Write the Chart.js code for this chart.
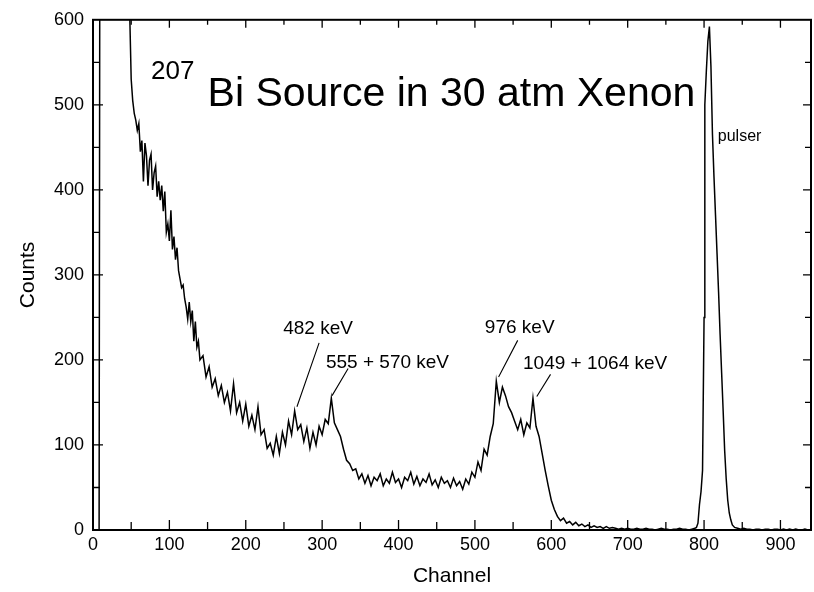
<!DOCTYPE html>
<html>
<head>
<meta charset="utf-8">
<title>207Bi Source in 30 atm Xenon</title>
<script src="https://cdn.jsdelivr.net/npm/chart.js@4.4.1/dist/chart.umd.min.js"></script>
<style>
  html, body { margin: 0; padding: 0; background: #fff; }
  canvas { display: block; }
</style>
</head>
<body>
<canvas id="spectrum" width="814" height="592"></canvas>
<script>
// spectrum (channel -> counts), values above 600 run off the top
var channels = [
  0, 4, 8, 12, 16, 20, 24, 28, 32, 36, 40, 44,
  48, 50, 52, 54, 56, 58, 60, 62, 64, 66, 68, 70, 72, 74, 76, 78, 80, 82, 84, 86, 88, 90, 92, 94,
  96, 98, 100, 102, 104, 106, 108, 110, 112, 114, 116, 118, 120, 122, 124, 126, 128, 130, 132, 134,
  136, 138, 140, 144, 148, 152, 156,
  160, 164, 168, 172, 176, 180, 184, 188, 192, 196, 200, 204, 208, 212, 216, 220, 224, 228, 232, 236,
  240, 244, 248, 252, 256, 260, 264, 268, 272, 276, 280, 284, 288, 292, 296, 300, 304, 308, 312, 316,
  320, 324, 328, 332, 336, 340, 344, 348, 352, 356, 360, 364, 368, 372, 376, 380, 384, 388, 392, 396,
  400, 404, 408, 412, 416, 420, 424, 428, 432, 436, 440, 444, 448, 452, 456, 460, 464, 468, 472, 476,
  480, 484, 488, 492, 496, 500, 504, 508, 512, 516, 520, 524, 528, 532, 536, 540, 544, 548, 552, 556,
  560, 564, 568, 572, 576, 580, 584, 588, 592, 596, 600, 604, 608, 612, 616, 620, 624, 628, 632, 636,
  640, 644, 648, 652, 656, 660, 664, 668, 672, 676, 680, 684, 688, 692, 696, 700, 704, 708, 712, 716,
  720, 724, 728, 732, 736, 740, 744, 748, 752, 756, 760, 764, 768, 772, 776, 780, 784, 788,
  790, 792, 794, 796, 798, 800, 801, 803, 805, 807, 809, 811, 813, 815, 817, 819, 821, 823, 825, 827,
  829, 831, 833, 835, 837, 840,
  844, 848, 852, 856, 860, 864, 868, 872, 876, 880, 884, 888, 892, 896, 900, 904, 908, 912, 916, 920,
  924, 928, 932, 936, 940
];
var counts = [
  0, 0, 0, 3000, 3000, 3000, 3000, 3000, 3000, 3000, 3000, 3000,
  610, 530, 505, 490, 482, 470, 478, 445, 458, 410, 455, 440, 405, 435, 442, 400, 420, 428, 392, 410, 388, 405, 375, 398,
  350, 360, 340, 376, 330, 345, 318, 332, 305, 295, 285, 288, 272, 262, 248, 268, 245, 258, 222, 245,
  215, 222, 200, 205, 180, 192, 168,
  178, 158, 170, 150, 162, 140, 172, 138, 150, 128, 148, 122, 135, 118, 145, 112, 118, 96, 102, 88,
  110, 90, 115, 100, 128, 112, 140, 118, 124, 104, 120, 96, 115, 100, 122, 112, 130, 125, 155, 126,
  118, 110, 95, 82, 78, 70, 72, 60, 66, 55, 64, 52, 62, 58, 66, 52, 60, 55, 68, 56,
  60, 50, 62, 58, 68, 54, 63, 52, 60, 56, 66, 53, 59, 50, 62, 55, 58, 50, 61, 52,
  57, 48, 60, 54, 68, 62, 80, 70, 95, 88, 110, 125, 175, 150, 168, 158, 145, 138, 128, 118,
  130, 112, 126, 120, 155, 122, 110, 90, 70, 52, 35, 24, 16, 11, 14, 8, 10, 6, 9, 5,
  7, 4, 6, 3, 5, 3, 4, 2, 4, 2, 3, 2, 1, 2, 1, 2, 1, 1, 2, 1,
  1, 2, 1, 1, 0, 1, 2, 1, 1, 0, 1, 1, 2, 1, 1, 0, 1, 2,
  3, 8, 30, 45, 70, 250, 500, 540, 575, 592, 545, 465, 415, 370, 325, 280, 230, 185, 140, 93,
  60, 35, 20, 12, 6, 3,
  2, 1, 2, 1, 1, 0, 1, 1, 0, 1, 1, 0, 1, 1, 0, 1, 0, 1, 0, 1,
  0, 0, 1, 0, 0
];

var xTicks = [0, 100, 200, 300, 400, 500, 600, 700, 800, 900];
var yTicks = [0, 100, 200, 300, 400, 500, 600];

var FONT = "'Liberation Sans', Arial, Helvetica, sans-serif";

// frame, inward tick marks and the text on the plot
var frameAndLabels = {
  id: 'frameAndLabels',
  afterDraw: function(chart) {
    var ctx = chart.ctx, a = chart.chartArea;
    var x = chart.scales.x, y = chart.scales.y;
    ctx.save();
    ctx.strokeStyle = '#000';
    ctx.lineWidth = 2;
    ctx.strokeRect(a.left, a.top, a.right - a.left, a.bottom - a.top);

    ctx.lineWidth = 1.3;
    ctx.beginPath();
    for (var v = 0; v <= 900; v += 50) {
      var px = x.getPixelForValue(v);
      var big = v % 100 === 0;
      ctx.moveTo(px, a.bottom); ctx.lineTo(px, a.bottom - (big ? 10 : 8));
      ctx.moveTo(px, a.top); ctx.lineTo(px, a.top + (big ? 8 : 5));
    }
    for (var w = 50; w < 600; w += 50) {
      var py = y.getPixelForValue(w);
      var big2 = w % 100 === 0;
      ctx.moveTo(a.left, py); ctx.lineTo(a.left + (big2 ? 10 : 7), py);
      ctx.moveTo(a.right, py); ctx.lineTo(a.right - (big2 ? 8 : 6), py);
    }
    ctx.stroke();

    // leader lines to the peaks
    var leaders = [
      [296, 220, 267, 145],
      [334, 190, 313, 158],
      [556, 223, 531, 180],
      [599, 183, 581, 157]
    ];
    ctx.lineWidth = 1.1;
    ctx.beginPath();
    leaders.forEach(function(l) {
      ctx.moveTo(x.getPixelForValue(l[0]), y.getPixelForValue(l[1]));
      ctx.lineTo(x.getPixelForValue(l[2]), y.getPixelForValue(l[3]));
    });
    ctx.stroke();

    ctx.fillStyle = '#000';
    ctx.textBaseline = 'alphabetic';
    ctx.textAlign = 'left';
    function put(txt, ch, cnt, size) {
      ctx.font = size + 'px ' + FONT;
      ctx.fillText(txt, x.getPixelForValue(ch), y.getPixelForValue(cnt));
    }
    put('482 keV', 249, 231, 19);
    put('555 + 570 keV', 305, 191, 19);
    put('976 keV', 513, 232, 19);
    put('1049 + 1064 keV', 563, 189, 19);
    put('pulser', 818, 457, 16);
    put('207', 76, 530, 26);
    put('Bi Source in 30 atm Xenon', 150, 499, 41);
    ctx.restore();
  }
};

var points = channels.map(function(c, i) { return { x: c, y: counts[i] }; });

new Chart(document.getElementById('spectrum').getContext('2d'), {
  type: 'line',
  data: {
    datasets: [{
      label: 'Counts',
      data: points,
      borderColor: '#000',
      borderWidth: 1.5,
      pointRadius: 0,
      tension: 0,
      fill: false
    }]
  },
  options: {
    responsive: false,
    animation: false,
    layout: { padding: { left: 0, top: 15, right: 3, bottom: 0 } },
    plugins: { legend: { display: false }, tooltip: { enabled: false } },
    scales: {
      x: {
        type: 'linear',
        min: 0,
        max: 940,
        afterFit: function(s) { s.height = 62; },
        afterBuildTicks: function(s) { s.ticks = xTicks.map(function(v) { return { value: v }; }); },
        grid: { display: false, drawTicks: false },
        border: { display: false },
        ticks: { color: '#000', padding: 4, maxRotation: 0, font: { family: FONT, size: 18 } },
        title: { display: true, text: 'Channel', color: '#000', padding: { top: 0, bottom: 3 }, font: { family: FONT, size: 21 } }
      },
      y: {
        min: 0,
        max: 600,
        afterFit: function(s) { s.width = 93; },
        afterBuildTicks: function(s) { s.ticks = yTicks.map(function(v) { return { value: v }; }); },
        grid: { display: false, drawTicks: false },
        border: { display: false },
        ticks: { color: '#000', padding: 9, font: { family: FONT, size: 18 } },
        title: { display: true, text: 'Counts', color: '#000', padding: { top: 16, bottom: 0 }, font: { family: FONT, size: 21 } }
      }
    }
  },
  plugins: [frameAndLabels]
});
</script>
</body>
</html>
